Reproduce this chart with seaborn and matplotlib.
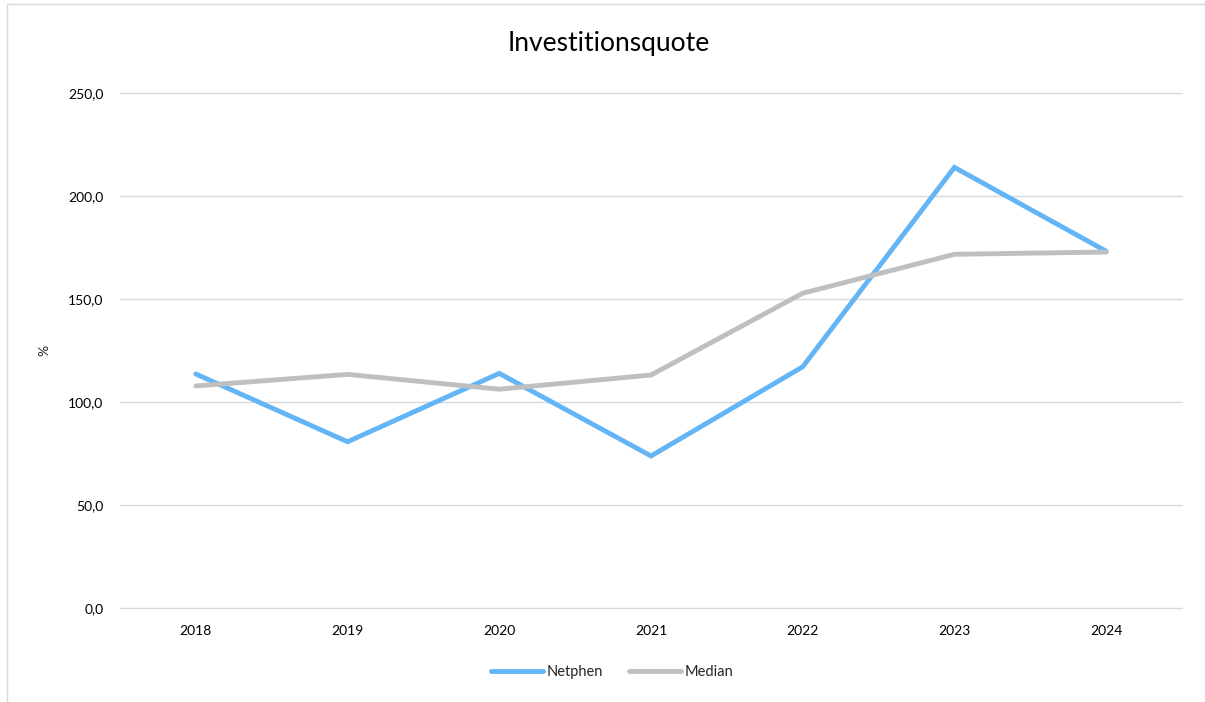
import matplotlib.pyplot as plt
import matplotlib.ticker as mticker
import numpy as np
import pandas as pd
import seaborn as sns
from matplotlib.patches import Rectangle

# ---------------------------------------------------------------- data
years = ['2018', '2019', '2020', '2021', '2022', '2023', '2024']
netphen = [113.6, 80.7, 113.9, 73.8, 117.1, 213.9, 173.2]
median = [107.8, 113.4, 106.2, 113.1, 152.8, 171.7, 172.8]
series_names = ['Netphen', 'Median']
colors = ['#64B5F6', '#BFBFBF']

df = pd.DataFrame({'Jahr': years * 2,
                   'Wert': netphen + median,
                   'Reihe': [series_names[0]] * len(years) + [series_names[1]] * len(years)})

# ---------------------------------------------------------------- plot
sns.set_theme(style='white')
plt.rcParams['font.family'] = ['Lato', 'DejaVu Sans']

fig = plt.figure(figsize=(12.05, 7.02), dpi=100)
ax = fig.add_axes([120 / 1205, 1 - 608 / 702, (1182 - 120) / 1205, (608 - 93) / 702])

sns.lineplot(data=df, x='Jahr', y='Wert', hue='Reihe', palette=colors,
             linewidth=3.5, sort=False, ax=ax, legend=False,
             solid_capstyle='round', solid_joinstyle='miter')

ax.set_xlim(-0.5, len(years) - 0.5)
ax.set_ylim(0, 250)
ax.yaxis.set_major_locator(mticker.MultipleLocator(50))
ax.yaxis.set_major_formatter(mticker.FuncFormatter(lambda v, p: f'{v:.1f}'.replace('.', ',')))
ax.grid(axis='y', color='#D9D9D9', linewidth=1.0)
for gl in ax.get_ygridlines():
    gl.set_clip_on(False)
ax.set_axisbelow(True)
for s in ax.spines.values():
    s.set_visible(False)
ax.tick_params(axis='both', length=0, labelsize=10, colors='#000000')
ax.tick_params(axis='x', pad=12)
ax.tick_params(axis='y', pad=12)
ax.set_xlabel('')
ax.set_ylabel('%', fontsize=10)
ax.yaxis.set_label_coords((50 - 120) / 1062, 0.5)

# title is centred on the whole chart, not on the plot area
fig.text(609 / 1205, 1 - 44 / 702, 'Investitionsquote', fontsize=19,
         ha='center', va='center', color='#000000')

# legend
handles = [plt.Line2D([0], [0], color=c, linewidth=3.5, solid_capstyle='round') for c in colors]
fig.legend(handles, series_names, loc='center', bbox_to_anchor=(612 / 1205, 1 - 672 / 702),
           ncol=2, frameon=False, fontsize=10.5, handlelength=3.6, handletextpad=0.2,
           columnspacing=1.8)

# outer chart border
fig.patches.append(Rectangle((7 / 1205, -0.05), 1.2, 1.05 - 4 / 702,
                             transform=fig.transFigure, fill=False,
                             edgecolor='#D9D9D9', linewidth=1.0))

fig.savefig('out.png', dpi=100)
